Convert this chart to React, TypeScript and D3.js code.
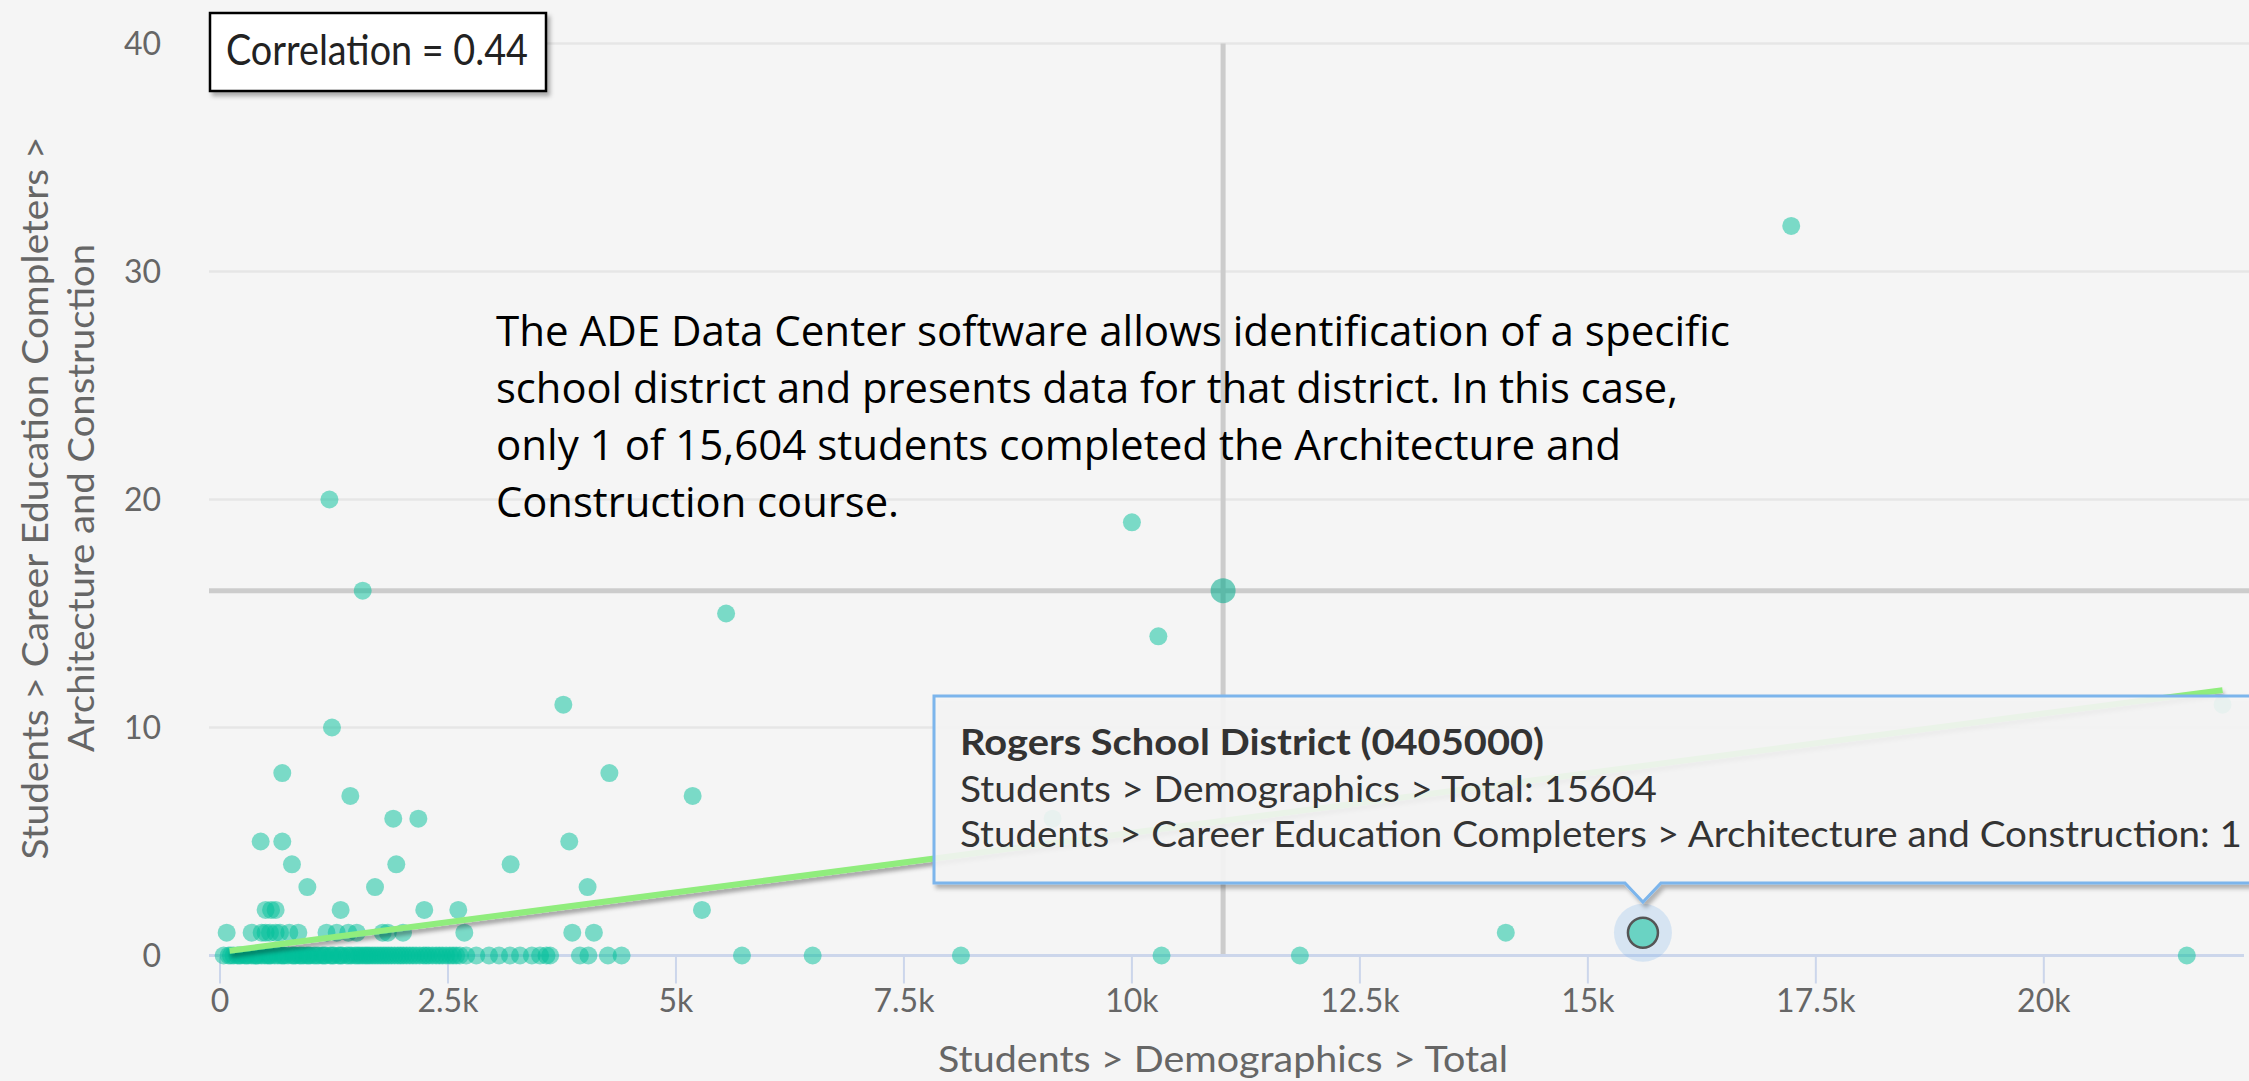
import React from 'react';
import * as d3 from 'd3';

const W = 2249;
const H = 1081;

// districts grouped by completer count (y), values are total students (x)
const row0 = [40, 95, 120, 150, 190, 210, 230, 270, 290, 310, 345, 380, 400, 420, 455, 490, 520, 540, 560, 600,
  635, 670, 690, 710, 745, 790, 810, 830, 870, 890, 915, 950, 970, 990, 1030, 1055, 1080, 1120, 1140, 1160, 1210,
  1230, 1250, 1300, 1320, 1340, 1390, 1415, 1440, 1480, 1505, 1530, 1560, 1590, 1615, 1640, 1670, 1700, 1730,
  1760, 1790, 1820, 1850, 1880, 1915, 1950, 1980, 2010, 2045, 2080, 2115, 2150, 2190, 2230, 2260, 2290, 2330,
  2370, 2405, 2440, 2480, 2520, 2555, 2590, 2630, 2700, 2810, 2950, 3060, 3180, 3290, 3420, 3510, 3580, 3620,
  3947, 4040, 4254, 4404, 5724, 6499, 8125, 10325, 11842, 21568];
const row1 = [73, 347, 457, 500, 548, 610, 658, 760, 859, 1168, 1280, 1407, 1500, 1784, 1840, 2007, 2679, 3863, 4100, 14100];
const row2 = [500, 560, 610, 1323, 2240, 2613, 5285];
const row3 = [958, 1700, 4031];
const row4 = [789, 1933, 3187];
const row5 = [446, 683, 3830];
const row6 = [1900, 2175, 9130];
const row7 = [1429, 5183];
const row8 = [683, 4270];
const row10 = [1228];
const row11 = [3765, 21960];
const row14 = [10290];
const row15 = [5550];
const row16 = [1565];
const row19 = [10000];
const row20 = [1200];
const row32 = [17230];

const rows: [number, number[]][] = [
  [0, row0], [1, row1], [2, row2], [3, row3], [4, row4], [5, row5], [6, row6], [7, row7], [8, row8],
  [10, row10], [11, row11], [14, row14], [15, row15], [16, row16], [19, row19], [20, row20], [32, row32],
];

const hoverPoint = [11000, 16];
const selected = { name: 'Rogers School District (0405000)', total: 15604, completers: 1 };
const trendX = [105, 21960];
const trendY = [0.21, 11.64];

const xTicks = [0, 2500, 5000, 7500, 10000, 12500, 15000, 17500, 20000];
const xTickLabels = ['0', '2.5k', '5k', '7.5k', '10k', '12.5k', '15k', '17.5k', '20k'];
const yTicks = [0, 10, 20, 30, 40];

const note = [
  'The ADE Data Center software allows identification of a specific',
  'school district and presents data for that district. In this case,',
  'only 1 of 15,604 students completed the Architecture and',
  'Construction course.',
];
const noteWidths = [1234, 1182, 1125, 403];

const font = 'Lato, "Noto Sans", sans-serif';

export default function App() {
  const x = d3.scaleLinear().domain([0, 22250]).range([220, W]);
  const y = d3.scaleLinear().domain([0, 40]).range([955.5, 43.5]);
  const plotLeft = 209;

  const points = rows.flatMap(([c, xs]) => xs.map(v => [v, c]));
  const trend = d3.line<number>().x((d, i) => x(trendX[i])).y((d, i) => y(trendY[i]))(trendX);

  const sx = x(selected.total);
  const sy = y(selected.completers);

  return (
    <svg width={W} height={H} style={{ position: 'absolute', left: 0, top: 0 }} fontFamily={font}>
      <defs>
        <filter id="lineShadow" x="-5%" y="-20%" width="110%" height="150%">
          <feDropShadow dx="1" dy="4" stdDeviation="2" floodColor="#000" floodOpacity="0.35" />
        </filter>
        <filter id="boxShadow" x="-5%" y="-20%" width="110%" height="150%">
          <feDropShadow dx="3" dy="4" stdDeviation="2" floodColor="#000" floodOpacity="0.3" />
        </filter>
      </defs>
      <rect width={W} height={H} fill="#f5f5f5" />

      {/* grid */}
      {yTicks.filter(t => t > 0).map(t => (
        <line key={t} x1={plotLeft} x2={W} y1={y(t)} y2={y(t)} stroke="#e6e6e6" strokeWidth={2.5} />
      ))}

      {/* crosshairs */}
      <line x1={plotLeft} x2={W} y1={y(hoverPoint[1])} y2={y(hoverPoint[1])} stroke="#cccccc" strokeWidth={5} />
      <line x1={x(hoverPoint[0])} x2={x(hoverPoint[0])} y1={y(40)} y2={y(0)} stroke="#cccccc" strokeWidth={5} />

      {/* x axis */}
      <line x1={plotLeft} x2={2244} y1={y(0)} y2={y(0)} stroke="#ccd6eb" strokeWidth={3} />
      {xTicks.map((t, i) => (
        <g key={t}>
          <line x1={x(t)} x2={x(t)} y1={y(0)} y2={y(0) + 28} stroke="#ccd6eb" strokeWidth={2} />
          <text x={x(t)} y={1012} textAnchor="middle" fontSize={32} fill="#666">{xTickLabels[i]}</text>
        </g>
      ))}
      {yTicks.map(t => (
        <text key={t} x={161} y={y(t)} dy="0.35em" textAnchor="end" fontSize={32} fill="#666">{t}</text>
      ))}

      {/* axis titles */}
      <text x={x(11000)} y={1072} textAnchor="middle" fontSize={36} fill="#666" textLength={570} lengthAdjust="spacingAndGlyphs">
        Students &gt; Demographics &gt; Total
      </text>
      <g transform="translate(48,498) rotate(-90)">
        <text x={0} y={0} textAnchor="middle" fontSize={36} fill="#666" textLength={723} lengthAdjust="spacingAndGlyphs">
          Students &gt; Career Education Completers &gt;
        </text>
      </g>
      <g transform="translate(94,498) rotate(-90)">
        <text x={0} y={0} textAnchor="middle" fontSize={36} fill="#666" textLength={508} lengthAdjust="spacingAndGlyphs">
          Architecture and Construction
        </text>
      </g>

      {/* points */}
      {points.map(([v, c], i) => (
        <circle key={i} cx={x(v)} cy={y(c)} r={9} fill="#00bf9a" fillOpacity={0.5} />
      ))}
      <circle cx={x(hoverPoint[0])} cy={y(hoverPoint[1])} r={12.5} fill="#00a98a" fillOpacity={0.55} />

      {/* trend line */}
      <path d={trend ?? ''} stroke="#90ed7d" strokeWidth={6} fill="none" filter="url(#lineShadow)" />

      {/* selected point */}
      <circle cx={sx} cy={sy} r={29} fill="#7cb5ec" fillOpacity={0.25} />
      <circle cx={sx} cy={sy} r={15} fill="#6ad3c3" stroke="#555" strokeWidth={2.5} />

      {/* tooltip */}
      <path
        d={`M934,696 H${W + 20} V883 H${sx + 18} L${sx},902 L${sx - 18},883 H934 Z`}
        fill="#f7f7f7" fillOpacity={0.88} stroke="#7cb5ec" strokeWidth={3} filter="url(#boxShadow)"
      />
      <text x={960} y={755} fontSize={37} fontWeight="bold" fill="#333" textLength={584} lengthAdjust="spacingAndGlyphs">
        {selected.name}
      </text>
      <text x={960} y={802} fontSize={36} fill="#333" textLength={697} lengthAdjust="spacingAndGlyphs">
        {`Students > Demographics > Total: ${selected.total}`}
      </text>
      <text x={960} y={847} fontSize={36} fill="#333" textLength={1282} lengthAdjust="spacingAndGlyphs">
        {`Students > Career Education Completers > Architecture and Construction: ${selected.completers}`}
      </text>

      {/* correlation box */}
      <rect x={210} y={13} width={336} height={78} fill="#fff" stroke="#000" strokeWidth={2.5} filter="url(#boxShadow)" />
      <text x={226} y={65} fontSize={42} fill="#222" textLength={302} lengthAdjust="spacingAndGlyphs">Correlation = 0.44</text>

      {/* annotation */}
      {note.map((s, i) => (
        <text key={i} x={496} y={346 + i * 57} fontSize={42} fill="#000" fontFamily='"Open Sans", "Noto Sans", sans-serif'
          textLength={noteWidths[i]} lengthAdjust="spacingAndGlyphs">{s}</text>
      ))}
    </svg>
  );
}
